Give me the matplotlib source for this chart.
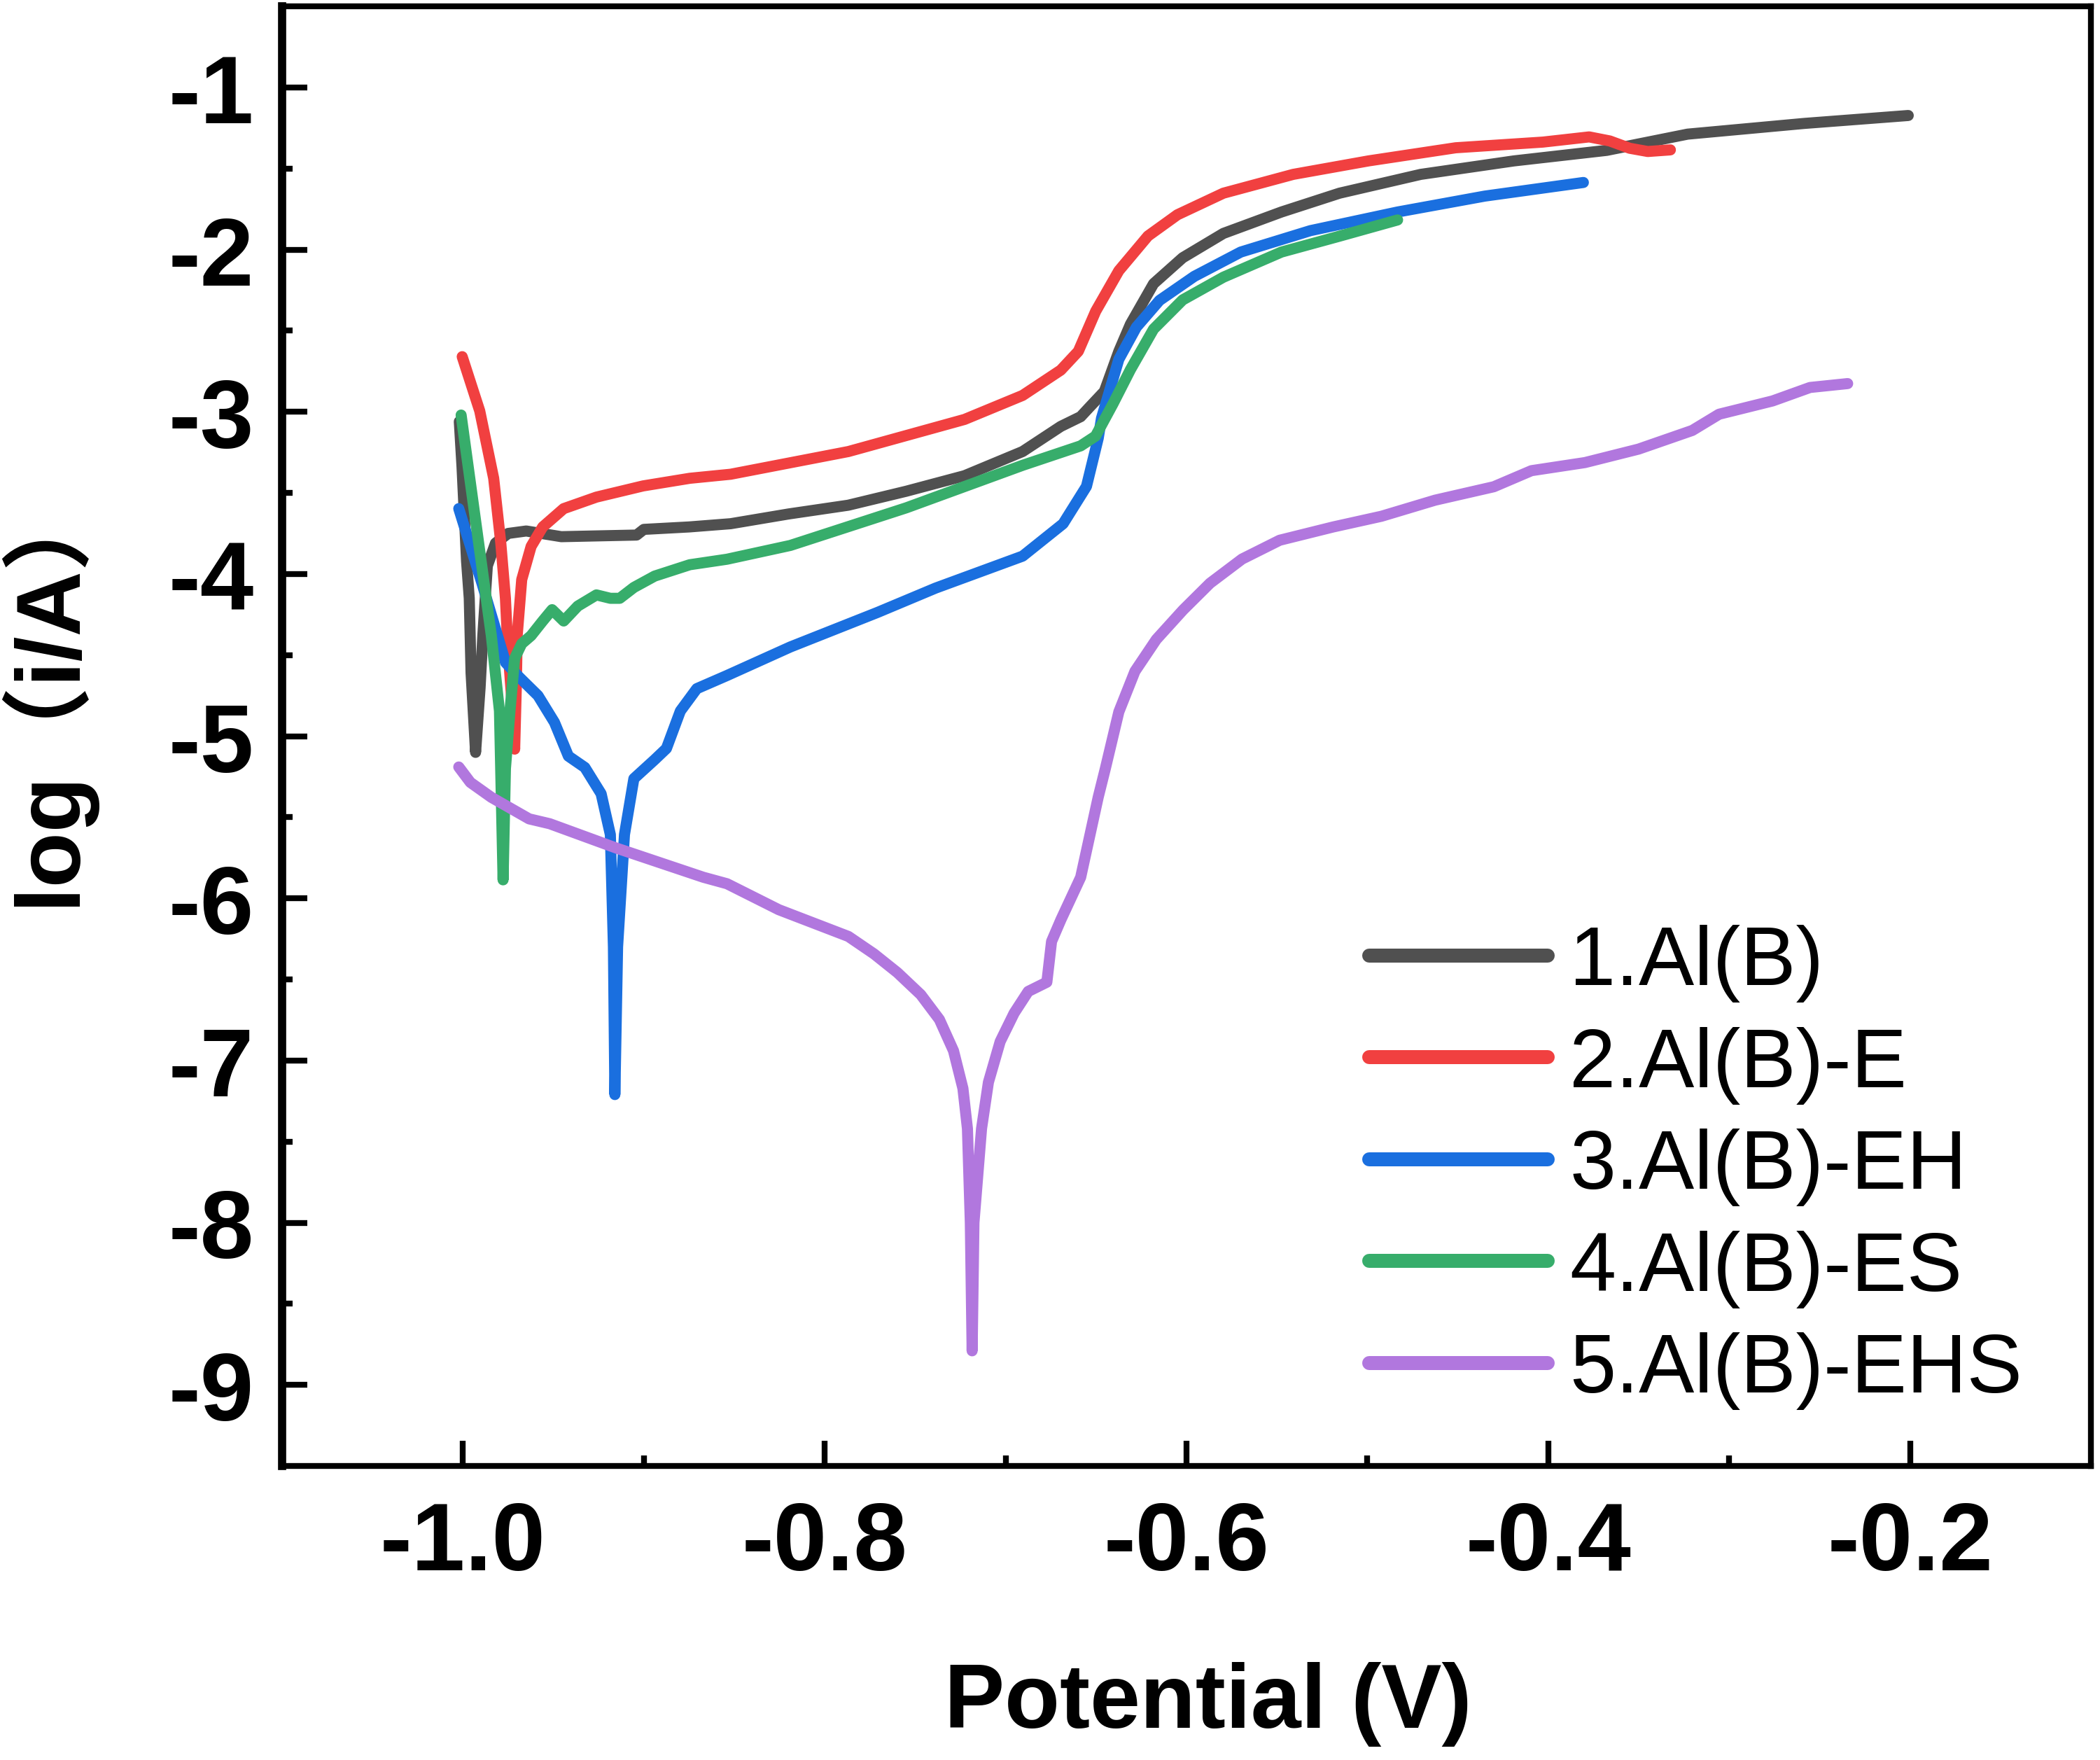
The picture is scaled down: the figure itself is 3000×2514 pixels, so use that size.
import matplotlib
matplotlib.use("Agg")
import matplotlib.pyplot as plt
from matplotlib.ticker import FixedLocator, FuncFormatter

plt.rcParams['font.family'] = ['Liberation Sans', 'Noto Sans CJK SC']
plt.rcParams['axes.unicode_minus'] = False

# potential (V) and log(i/A), one pair of lists per sample
v1 = [-1.002, -1.0005, -0.998, -0.9965, -0.9955, -0.993, -0.9905, -0.989, -0.9865, -0.982,
      -0.975, -0.965, -0.9456, -0.925, -0.904, -0.900, -0.875, -0.852, -0.82, -0.787,
      -0.755, -0.7227, -0.6906, -0.6695, -0.6585, -0.6535, -0.6454, -0.6374, -0.631, -0.6182,
      -0.6021, -0.5796, -0.5475, -0.5154, -0.4705, -0.419, -0.3677, -0.323, -0.2586, -0.201]
i1 = [-3.06, -3.34, -3.92, -4.15, -4.61, -5.10, -4.70, -4.38, -3.95, -3.81,
      -3.75, -3.735, -3.77, -3.765, -3.76, -3.725, -3.71, -3.69, -3.63, -3.576,
      -3.49, -3.394, -3.245, -3.09, -3.03, -2.97, -2.874, -2.627, -2.46, -2.21,
      -2.05, -1.90, -1.768, -1.652, -1.536, -1.453, -1.388, -1.288, -1.222, -1.173]

v2 = [-1.0004, -0.9907, -0.983, -0.9791, -0.9765, -0.9752, -0.9725, -0.9714, -0.9705, -0.970,
      -0.9675, -0.9623, -0.9559, -0.9443, -0.9262, -0.9004, -0.8746, -0.852, -0.7869, -0.7227,
      -0.6906, -0.6695, -0.6598, -0.6502, -0.6374, -0.6213, -0.605, -0.5796, -0.541, -0.4994,
      -0.4512, -0.403, -0.3774, -0.366, -0.355, -0.345, -0.3325]
i2 = [-2.66, -2.995, -3.41, -3.805, -4.15, -4.45, -4.85, -5.08, -4.70, -4.38,
      -4.035, -3.83, -3.71, -3.597, -3.526, -3.457, -3.41, -3.385, -3.245, -3.047,
      -2.899, -2.743, -2.627, -2.38, -2.13, -1.916, -1.785, -1.652, -1.536, -1.453,
      -1.372, -1.337, -1.305, -1.33, -1.375, -1.395, -1.385]

v3 = [-1.0023, -0.9894, -0.9765, -0.9688, -0.9585, -0.9494, -0.9417, -0.9326, -0.9236, -0.9185,
      -0.9168, -0.916, -0.9145, -0.9107, -0.9055, -0.894, -0.8875, -0.8798, -0.8707, -0.854,
      -0.819, -0.7708, -0.7387, -0.6906, -0.6682, -0.6553, -0.6488, -0.647, -0.6374, -0.6277,
      -0.6149, -0.5957, -0.57, -0.5315, -0.4833, -0.4351, -0.3806]
i3 = [-3.597, -4.06, -4.545, -4.637, -4.75, -4.915, -5.123, -5.193, -5.355, -5.607,
      -6.30, -7.21, -6.30, -5.607, -5.262, -5.145, -5.076, -4.845, -4.707, -4.626,
      -4.45, -4.237, -4.087, -3.89, -3.69, -3.46, -3.163, -3.04, -2.676, -2.478,
      -2.313, -2.165, -2.015, -1.883, -1.768, -1.67, -1.586]

v4 = [-1.001, -0.9843, -0.9798, -0.9778, -0.9765, -0.974, -0.9714, -0.9675, -0.9623, -0.9559,
      -0.9507, -0.9443, -0.9365, -0.9262, -0.9185, -0.9133, -0.9055, -0.894, -0.8746, -0.854,
      -0.819, -0.7549, -0.6906, -0.6585, -0.6503, -0.6406, -0.631, -0.6182, -0.6021, -0.5796,
      -0.5475, -0.5154, -0.4833]
i4 = [-3.02, -4.38, -4.845, -5.886, -5.20, -4.845, -4.52, -4.43, -4.38, -4.29,
      -4.22, -4.29, -4.198, -4.129, -4.15, -4.15, -4.083, -4.013, -3.943, -3.909,
      -3.824, -3.592, -3.33, -3.21, -3.15, -2.95, -2.74, -2.49, -2.31, -2.17,
      -2.015, -1.917, -1.817]

v5 = [-1.0023, -0.9959, -0.9843, -0.9634, -0.952, -0.9152, -0.8671, -0.854, -0.8254, -0.7869,
      -0.7727, -0.7598, -0.7469, -0.7366, -0.7288, -0.7236, -0.7211, -0.7195, -0.7185, -0.7175,
      -0.7133, -0.7095, -0.703, -0.6953, -0.6875, -0.6772, -0.6746, -0.6694, -0.6585, -0.6488,
      -0.6448, -0.6374, -0.6285, -0.6167, -0.6019, -0.587, -0.5693, -0.5485, -0.5189, -0.4922,
      -0.4626, -0.4301, -0.4093, -0.3797, -0.3501, -0.3204, -0.3056, -0.276, -0.2553, -0.2345]
i5 = [-5.19, -5.285, -5.377, -5.51, -5.54, -5.69, -5.87, -5.91, -6.07, -6.235,
      -6.343, -6.458, -6.594, -6.747, -6.94, -7.172, -7.42, -8.0, -8.79, -8.0,
      -7.42, -7.134, -6.883, -6.708, -6.574, -6.517, -6.266, -6.131, -5.87, -5.376,
      -5.197, -4.85, -4.60, -4.404, -4.222, -4.057, -3.908, -3.792, -3.71, -3.644,
      -3.545, -3.462, -3.363, -3.313, -3.23, -3.115, -3.015, -2.933, -2.85, -2.826]

labels = ['1.Al(B)', '2.Al(B)-E', '3.Al(B)-EH', '4.Al(B)-ES', '5.Al(B)-EHS']
colors = ['#505050', '#F14040', '#1A6FDF', '#37AD6B', '#B177DE']

x_major = [-1.0, -0.8, -0.6, -0.4, -0.2]
x_minor = [-0.9, -0.7, -0.5, -0.3]
y_major = [-9, -8, -7, -6, -5, -4, -3, -2, -1]
y_minor = [-8.5, -7.5, -6.5, -5.5, -4.5, -3.5, -2.5, -1.5]

fig = plt.figure(figsize=(10, 8.3833), dpi=300)
ax = fig.add_axes([0.1343, 0.1670, 0.8614, 0.8290])

series = [(v1, i1), (v2, i2), (v3, i3), (v4, i4), (v5, i5)]
for (v, i), lab, c in zip(series, labels, colors):
    ax.plot(v, i, color=c, lw=3.8, label=lab,
            solid_capstyle='round', solid_joinstyle='round')

ax.set_xlim(-1.1, -0.1)
ax.set_ylim(-9.5, -0.5)

ax.xaxis.set_major_locator(FixedLocator(x_major))
ax.xaxis.set_minor_locator(FixedLocator(x_minor))
ax.yaxis.set_major_locator(FixedLocator(y_major))
ax.yaxis.set_minor_locator(FixedLocator(y_minor))
ax.xaxis.set_major_formatter(FuncFormatter(lambda x, p: '%.1f' % x))
ax.yaxis.set_major_formatter(FuncFormatter(lambda y, p: '%d' % round(y)))

ax.tick_params(which='both', direction='in', width=2.0, top=False, right=False)
ax.tick_params(which='major', length=8.6)
ax.tick_params(which='minor', length=3.5)
ax.tick_params(axis='x', which='major', pad=11.5)
ax.tick_params(axis='y', which='major', pad=9.6)
for lab in ax.get_xticklabels() + ax.get_yticklabels():
    lab.set_fontsize(33)
    lab.set_fontweight('bold')

for side in ['top', 'right', 'bottom']:
    ax.spines[side].set_linewidth(2.0)
ax.spines['left'].set_linewidth(2.8)

ax.set_xlabel('Potential (V)', fontsize=31, fontweight='bold')
ax.set_ylabel('log（i/A）', fontsize=31, fontweight='bold')
ax.xaxis.set_label_coords(0.512, -0.134)
ax.yaxis.set_label_coords(-0.104, 0.532)

leg = ax.legend(loc='upper left', bbox_to_anchor=(0.601, 0.371), frameon=False,
                fontsize=28.5, handlelength=2.15, handletextpad=0.26,
                labelspacing=0.29, borderpad=0, borderaxespad=0)
for h in leg.get_lines():
    h.set_linewidth(4.8)
    h.set_solid_capstyle('round')

fig.savefig('out.png', dpi=300)
